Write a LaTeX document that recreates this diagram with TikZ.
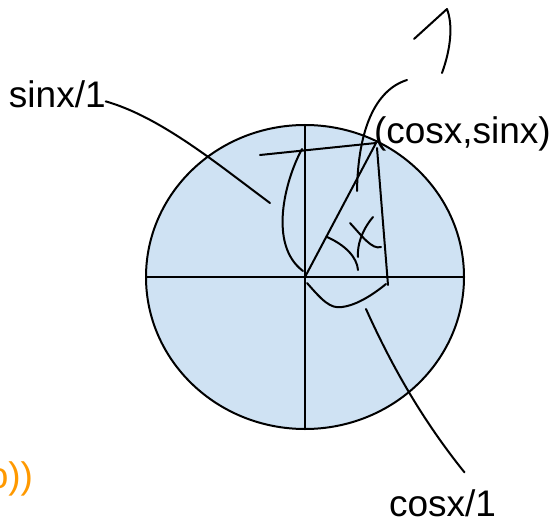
\documentclass[tikz,border=0pt]{standalone}
\usepackage{fontspec}
\setmainfont{Liberation Sans}
\usetikzlibrary{
    shapes.geometric,
    positioning
}
\definecolor{discblue}{HTML}{CFE2F3}
\definecolor{sigorange}{HTML}{FF9900}
\tikzset{
  every path/.style={
    black,
    line width=2pt,
    line cap=round,
    line join=round
  },
  every node/.style={
    inner sep=0pt,
    outer sep=0pt
  },
  lbl/.style={
    font=\fontsize{37}{44}\selectfont
  }
}

\begin{document}
\begin{tikzpicture}[x=1pt,y=-1pt]
\useasboundingbox (0,0) rectangle (554,524);
\node[ellipse, draw, fill=discblue, minimum width=318pt, minimum height=304pt] (disc) at (305,277) {};
\draw (disc.north) -- (disc.south);
\draw (disc.west) -- (disc.east);
\node[lbl, anchor=base west] (sinlbl) at (9,108) {sinx/1};
\node[lbl, anchor=base west] (ptlbl) at (374,143) {(cosx,sinx)};
\node[lbl, anchor=base west] (coslbl) at (389,516) {cosx/1};
\node[lbl, anchor=base east, text=sigorange] (sig) at (33,488) {o))};
\coordinate (p) at (376,143);
\draw (260,155) -- (p);
\draw (disc.center) -- (p);
\draw (377,148) -- (388,285);
\draw (302,149) .. controls (285,180) and (268,245) .. (303,271);
\draw (407,80) .. controls (375,90) and (358,130) .. (357,191);
\draw (414,39) -- (447,9) .. controls (453,25) and (451,48) .. (442,73);
\draw (327,237) .. controls (345,245) and (357,257) .. (358,270);
\draw (350,223) .. controls (362,236) and (372,250) .. (381,247);
\draw (373,217) .. controls (362,230) and (357,245) .. (358,257);
\draw (307,283) .. controls (322,300) and (330,309) .. (342,307) .. controls (358,305) and (375,293) .. (386,284);
\draw ([yshift=7pt]sinlbl.south east) .. controls (161,117) and (220,166) .. (270,203);
\draw (366,309) .. controls (393,369) and (424,422) .. ([xshift=22pt,yshift=44pt]coslbl.south);
\end{tikzpicture}
\end{document}
